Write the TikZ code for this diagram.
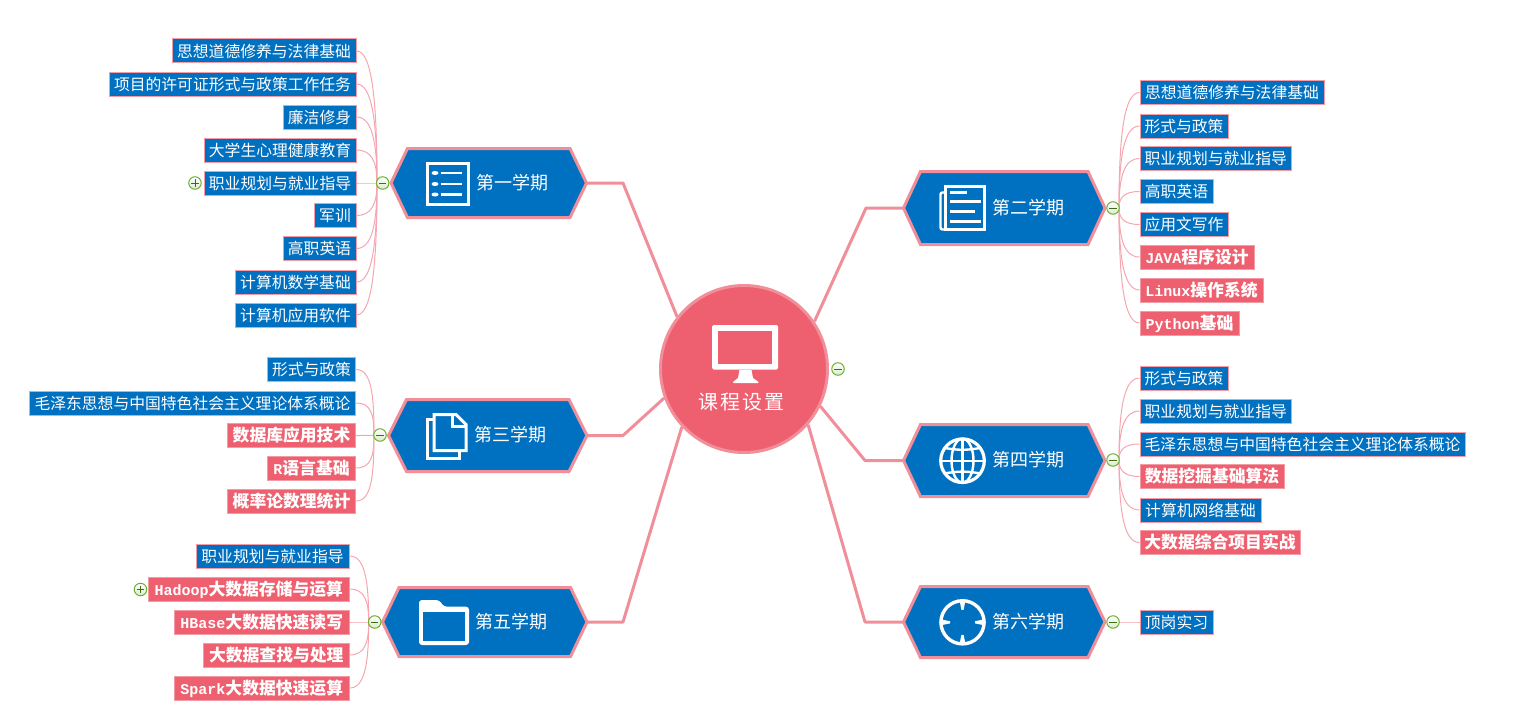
\documentclass[tikz,border=0pt]{standalone}
\usepackage{fontspec}
\setmainfont{Noto Sans CJK SC}
\newfontfamily\cjkwide[LetterSpace=10]{Noto Sans CJK SC}
\newfontfamily\latmono{Liberation Mono}
\usetikzlibrary{calc}
\definecolor{hexblue}{HTML}{0070C0}
\definecolor{rosefill}{HTML}{EE5F6F}
\definecolor{roseline}{HTML}{F08E9A}
\definecolor{leafline}{HTML}{F39CA6}
\definecolor{twigc}{HTML}{F6A6AF}
\definecolor{badgeg}{HTML}{6BB02F}
\newcommand{\La}[1]{{\latmono\fontsize{15}{16}\selectfont #1}}
\tikzset{
  x=1pt,y=1pt,
  leafbase/.style={rectangle,draw=leafline,line width=1pt,inner sep=0pt,minimum height=24pt,
    text=white,text height=13.9pt,text depth=1.9pt,font=\fontsize{15.8}{16}\selectfont},
  blueleaf/.style={leafbase,fill=hexblue},
  roseleaf/.style={leafbase,fill=rosefill,font=\fontsize{16.8}{17}\selectfont\bfseries},
  hexshape/.style={fill=hexblue,draw=roseline,line width=3pt,line join=miter},
  hexlabel/.style={text=white,inner sep=0pt,font=\fontsize{18}{20}\selectfont},
  trunk/.style={draw=roseline,line width=3pt,line join=round},
  twig/.style={draw=twigc,line width=1pt},
  badgebase/.style={circle,draw=badgeg,line width=1pt,minimum size=12.5pt,inner sep=0pt,
    top color=white,bottom color=badgeg!25},
  minusb/.style={badgebase,path picture={\draw[badgeg!60!black,line width=1pt]
     ($(path picture bounding box.west)+(2.5,0)$) -- ($(path picture bounding box.east)+(-2.5,0)$);}},
  plusb/.style={badgebase,path picture={\draw[badgeg!60!black,line width=1pt]
     ($(path picture bounding box.west)+(2.5,0)$) -- ($(path picture bounding box.east)+(-2.5,0)$)
     ($(path picture bounding box.north)+(0,-2.5)$) -- ($(path picture bounding box.south)+(0,2.5)$);}},
  icon/.style={draw=white,line width=2.8pt,line join=miter},
}
\newcommand{\hexa}[6]{% name,left,right,top,bottom,inset
  \draw[hexshape] (#2,{-(#4+#5)/2}) -- (#2+#6,-#4) -- (#3-#6,-#4) -- (#3,{-(#4+#5)/2}) -- (#3-#6,-#5) -- (#2+#6,-#5) -- cycle;
  \node[rectangle,inner sep=0pt,minimum width=#3-#2,minimum height=#5-#4] (#1) at ({(#2+#3)/2},{-(#4+#5)/2}) {};
}
\newcommand{\sethub}[3]{\coordinate (#1) at (#2,-#3); \def\hubname{#1}\def\huby{#3}}
\newcommand{\lleaf}[6]{% name,left,right,y,style,text
  \node[#5,minimum width=#3-#2-1] (#1) at ({(#2+#3)/2},-#4) {#6};
  \draw[twig] (#1.east) .. controls +(15,0) and +(0,{(\huby-#4)*0.65}) .. (\hubname);
}
\newcommand{\rleaf}[6]{%
  \node[#5,minimum width=#3-#2-1] (#1) at ({(#2+#3)/2},-#4) {#6};
  \draw[twig] (#1.west) .. controls +(-15,0) and +(0,{(\huby-#4)*0.65}) .. (\hubname);
}
\begin{document}
\begin{tikzpicture}
\useasboundingbox (0,0) rectangle (1517,-717);
% semester hexagons
\hexa{s1}{391}{586.5}{148.5}{217.5}{16.5}
\hexa{s2}{903.5}{1105}{171.5}{244.5}{17}
\hexa{s3}{388.5}{587}{399.5}{471.5}{18}
\hexa{s4}{903.5}{1105}{424.5}{496.5}{17}
\hexa{s5}{382.5}{587}{587.5}{656.5}{16.5}
\hexa{s6}{903.5}{1105}{586.5}{657.5}{17}
\node[hexlabel] (t1) at (512,-183) {第一学期};
\node[hexlabel] (t2) at (1028.7,-208) {第二学期};
\node[hexlabel] (t3) at (510.5,-435) {第三学期};
\node[hexlabel] (t4) at (1028.7,-460) {第四学期};
\node[hexlabel] (t5) at (511.5,-622) {第五学期};
\node[hexlabel] (t6) at (1028.7,-622) {第六学期};
% centre
\node[circle,fill=rosefill,draw=roseline,line width=3pt,minimum size=167pt,inner sep=0pt] (c) at (744,-369) {};
\fill[white,rounded corners=1.5pt] (712,-325) rectangle (778,-369.5);
\fill[rosefill] (718,-331) rectangle (772,-364);
\fill[white] (739.5,-370) -- (751.5,-370) -- (753,-378) -- (758.5,-382) -- (758,-383) -- (733.5,-383) -- (733,-382) -- (738,-378) -- cycle;
\node[text=white,inner sep=0pt,font=\cjkwide\fontsize{20}{22}\selectfont] (ct) at (741.5,-402) {课程设置};
% trunks
\coordinate (k1) at (623,-183); \draw[trunk] (s1.east) -- (k1) -- (c.142);
\coordinate (k2) at (866,-208); \draw[trunk] (s2.west) -- (k2) -- (c.34);
\coordinate (k3) at (623,-435.5); \draw[trunk] (s3.east) -- (k3) -- (c.200);
\coordinate (k4) at (865,-460.5); \draw[trunk] (s4.west) -- (k4) -- (c.-26);
\coordinate (k5) at (623,-622); \draw[trunk] (s5.east) -- (k5) -- (c.223);
\coordinate (k6) at (865,-622); \draw[trunk] (s6.west) -- (k6) -- (c.-41);
% group 1
\sethub{h1}{377}{183}
\lleaf{a1}{171.5}{356.5}{51}{blueleaf}{思想道德修养与法律基础}
\lleaf{a2}{108.5}{356.5}{84}{blueleaf}{项目的许可证形式与政策工作任务}
\lleaf{a3}{282.5}{356.5}{117}{blueleaf}{廉洁修身}
\lleaf{a4}{203.5}{356.5}{150}{blueleaf}{大学生心理健康教育}
\lleaf{a5}{203.5}{356.5}{183}{blueleaf}{职业规划与就业指导}
\lleaf{a6}{313.5}{356.5}{215.5}{blueleaf}{军训}
\lleaf{a7}{282.5}{356.5}{248.5}{blueleaf}{高职英语}
\lleaf{a8}{234.5}{356.5}{282}{blueleaf}{计算机数学基础}
\lleaf{a9}{234.5}{356.5}{315}{blueleaf}{计算机应用软件}
% group 2
\sethub{h2}{1119}{208}
\rleaf{b1}{1139.5}{1324.5}{92.5}{blueleaf}{思想道德修养与法律基础}
\rleaf{b2}{1139.5}{1228.5}{126}{blueleaf}{形式与政策}
\rleaf{b3}{1139.5}{1292}{158.5}{blueleaf}{职业规划与就业指导}
\rleaf{b4}{1139.5}{1213.5}{191.5}{blueleaf}{高职英语}
\rleaf{b5}{1139.5}{1228.5}{224.5}{blueleaf}{应用文写作}
\rleaf{b6}{1139.5}{1254.5}{257}{roseleaf}{\La{JAVA}程序设计}
\rleaf{b7}{1139.5}{1263.5}{290}{roseleaf}{\La{Linux}操作系统}
\rleaf{b8}{1139.5}{1239.5}{323}{roseleaf}{\La{Python}基础}
% group 3
\sethub{h3}{374}{435}
\lleaf{d1}{267}{356}{369.5}{blueleaf}{形式与政策}
\lleaf{d2}{29}{356}{403}{blueleaf}{毛泽东思想与中国特色社会主义理论体系概论}
\lleaf{d3}{227}{356}{435.5}{roseleaf}{数据库应用技术}
\lleaf{d4}{267}{356}{468}{roseleaf}{\La{R}语言基础}
\lleaf{d5}{227}{356}{501}{roseleaf}{概率论数理统计}
% group 4
\sethub{h4}{1119}{460}
\rleaf{e1}{1139.5}{1228.5}{378}{blueleaf}{形式与政策}
\rleaf{e2}{1139.5}{1292}{411}{blueleaf}{职业规划与就业指导}
\rleaf{e3}{1139.5}{1465.5}{444}{blueleaf}{毛泽东思想与中国特色社会主义理论体系概论}
\rleaf{e4}{1139.5}{1284.5}{476.5}{roseleaf}{数据挖掘基础算法}
\rleaf{e5}{1139.5}{1261.5}{510}{blueleaf}{计算机网络基础}
\rleaf{e6}{1139.5}{1300.5}{542.5}{roseleaf}{大数据综合项目实战}
% group 5
\sethub{h5}{368.7}{622}
\lleaf{f1}{195.5}{349.5}{556}{blueleaf}{职业规划与就业指导}
\lleaf{f2}{148}{349.5}{589}{roseleaf}{\La{Hadoop}大数据存储与运算}
\lleaf{f3}{174}{349.5}{622}{roseleaf}{\La{HBase}大数据快速读写}
\lleaf{f4}{203}{349.5}{655}{roseleaf}{大数据查找与处理}
\lleaf{f5}{174}{349.5}{688}{roseleaf}{\La{Spark}大数据快速运算}
% group 6
\sethub{h6}{1119}{622}
\rleaf{g1}{1139.5}{1213.5}{622}{blueleaf}{顶岗实习}
% badges
\node[minusb] (m1) at (382.7,-183) {};
\node[minusb] (m2) at (1113,-208) {};
\node[minusb] (m3) at (380,-435) {};
\node[minusb] (m4) at (1113,-460) {};
\node[minusb] (m5) at (374.7,-622) {};
\node[minusb] (m6) at (1113,-622) {};
\node[minusb] (m0) at (838,-369) {};
\node[plusb] (p1) at (195,-183) {};
\node[plusb] (p2) at (140.5,-589.5) {};
% icon 1: list
\draw[icon] (427.5,-163.5) rectangle (468.5,-204.5);
\foreach \yy in {173,184,194.5}{
  \fill[white] (435,-\yy) ellipse[x radius=3.5pt,y radius=2pt];
  \draw[white,line width=2.4pt] (440.5,-\yy) -- (462,-\yy);
}
% icon 2: document
\draw[icon,line width=2.4pt] (945.5,-186.5) -- (984.5,-186.5) -- (984.5,-229.5) -- (945.5,-229.5) -- cycle;
\draw[icon,line width=2.4pt,rounded corners=2pt] (944,-192.5) -- (940.5,-192.5) -- (940.5,-229.5) -- (946,-229.5);
\foreach \yy/\xe in {192.3/966.7,201.5/981,211.3/974.7,221.3/981}{
  \draw[white,line width=3pt] (950,-\yy) -- (\xe,-\yy);
}
% icon 3: pages
\draw[icon,line width=3pt] (434,-414.5) -- (456,-414.5) -- (466,-424.5) -- (466,-450.5) -- (434,-450.5) -- cycle;
\draw[icon,line width=3pt] (452.7,-415) -- (452.7,-426.5) -- (465,-426.5);
\draw[icon,line width=3pt] (433,-419.5) -- (427,-419.5) -- (427,-458) -- (459,-458) -- (459,-451);
% icon 4: globe
\draw[icon,line width=3.2pt] (962.5,-460.7) circle[radius=21.8pt];
\draw[white,line width=2.4pt] (962.5,-460.7) ellipse[x radius=11pt,y radius=22pt];
\draw[white,line width=2.4pt] (962.5,-438.7) -- (962.5,-482.7);
\draw[white,line width=2.4pt] (940.5,-460.7) -- (984.5,-460.7);
\draw[white,line width=2.4pt] (945,-448) to[bend right=10] (980,-448);
\draw[white,line width=2.4pt] (945,-473.4) to[bend left=10] (980,-473.4);
% icon 5: folder
\fill[white,rounded corners=3pt] (419,-645) -- (419,-600) -- (439,-600) -- (444,-606.7) -- (469,-606.7) -- (469,-645) -- cycle;
\fill[hexblue] (423.3,-611.7) rectangle (465,-640.7);
% icon 6: target
\draw[icon,line width=3.4pt] (962.5,-622.3) circle[radius=21.6pt];
\foreach \rr in {0,90,180,270}{
  \fill[white,rotate around={\rr:(962.5,-622.3)}] (984,-625.2) -- (984,-619.4) -- (975,-621.2) -- (975,-623.4) -- cycle;
}
\end{tikzpicture}
\end{document}
